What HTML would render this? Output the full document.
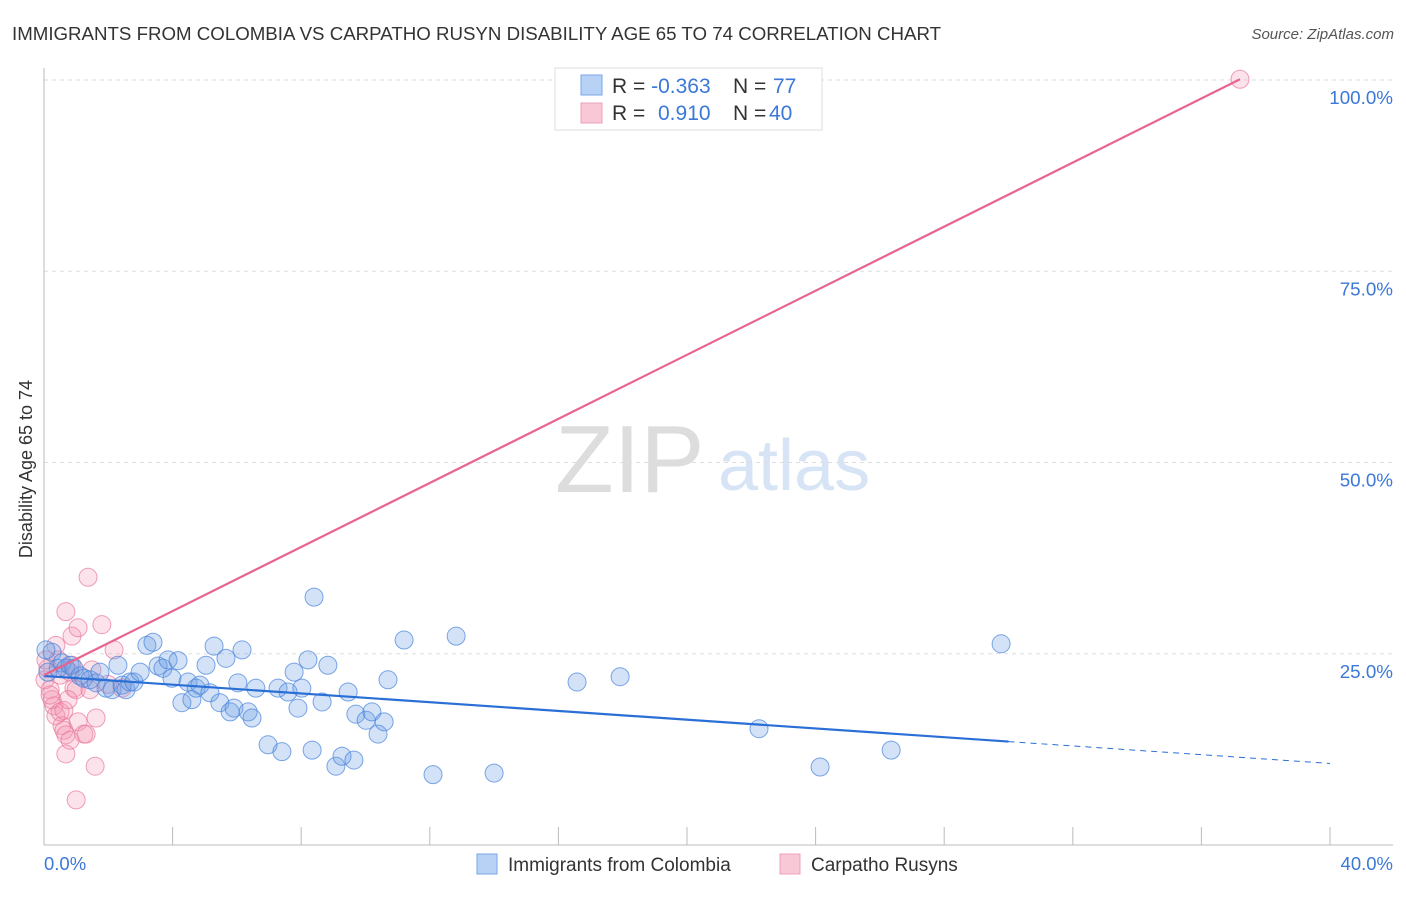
<!DOCTYPE html>
<html><head><meta charset="utf-8">
<style>
body{margin:0;background:#fff;font-family:"Liberation Sans",sans-serif}
svg text{font-family:"Liberation Sans",sans-serif}
</style></head>
<body>
<svg id="chart" width="1406" height="892">
<text x="12" y="40" font-size="18.7" fill="#333">IMMIGRANTS FROM COLOMBIA VS CARPATHO RUSYN DISABILITY AGE 65 TO 74 CORRELATION CHART</text>
<text x="1394" y="39" font-size="15" fill="#555" font-style="italic" text-anchor="end">Source: ZipAtlas.com</text>
<g>
<text x="555" y="492" font-size="96" fill="#ddd" font-family="Liberation Serif">ZIP</text>
<text x="718" y="490" font-size="72" fill="#d6e4f5">atlas</text>
</g>
<g id="grid"></g>
<g id="axes"></g>
<g id="pts"></g>
<g id="lines"></g>
<text x="18" y="455" font-size="18" fill="#333" transform="rotate(-90 32 455)" text-anchor="middle">Disability Age 65 to 74</text>
<g>
<rect x="555" y="68" width="267" height="62" fill="#fff" stroke="#ddd"/>
<rect x="581" y="75" width="21" height="20" fill="#b8d2f5" stroke="#7aa6e6"/>
<rect x="581" y="103" width="21" height="20" fill="#f9c8d6" stroke="#eda0b8"/>
<text x="612" y="93" font-size="21" fill="#333">R = <tspan fill="#3b78d8">-0.363</tspan><tspan x="733">N = </tspan><tspan x="773" fill="#3b78d8">77</tspan></text>
<text x="612" y="120" font-size="21" fill="#333">R = <tspan x="658" fill="#3b78d8">0.910</tspan><tspan x="733">N = </tspan><tspan x="769" fill="#3b78d8">40</tspan></text>
</g>
<g>
<rect x="477" y="854" width="20" height="20" fill="#b8d2f5" stroke="#7aa6e6"/>
<text x="508" y="871" font-size="19" fill="#333">Immigrants from Colombia</text>
<rect x="780" y="854" width="20" height="20" fill="#f9c8d6" stroke="#eda0b8"/>
<text x="811" y="871" font-size="19" fill="#333">Carpatho Rusyns</text>
</g>
</svg>
<script>
const yTicks=[25,50,75,100];
const yTickLabels=["25.0%","50.0%","75.0%","100.0%"];
const xTicks=[0,4,8,12,16,20,24,28,32,36,40];
const xEndLabels=["0.0%","40.0%"];
const blueX=[0.25,0.44,0.56,0.68,0.81,0.93,1.12,1.24,1.43,1.62,1.74,1.93,2.12,2.30,2.43,2.55,2.67,2.80,2.99,3.20,3.39,3.55,3.70,3.86,3.98,4.17,4.29,4.48,4.60,4.73,4.85,5.04,5.16,5.29,5.47,5.66,5.79,5.91,6.03,6.16,6.35,6.47,6.59,6.97,7.28,7.40,7.59,7.78,7.90,8.02,8.21,8.34,8.40,8.65,8.83,9.08,9.27,9.46,9.64,9.70,10.02,10.20,10.39,10.58,10.70,11.20,12.10,12.82,14.00,16.58,17.92,22.24,24.14,26.35,29.77,0.06,0.12];
const blueY=[25.2,23.1,23.8,23.1,23.5,23.1,22.1,21.8,21.6,21.2,22.6,20.5,20.3,23.5,20.9,20.3,21.3,21.3,22.6,26.1,26.5,23.4,23.1,24.2,21.8,24.1,18.6,21.3,19.0,20.5,20.9,23.5,19.9,26.0,18.6,24.4,17.4,17.9,21.2,25.5,17.4,16.6,20.5,13.1,20.5,12.2,20.0,22.6,17.9,20.5,24.2,12.4,32.4,18.7,23.5,10.3,11.6,20.0,11.1,17.1,16.3,17.4,14.5,16.1,21.6,26.8,9.2,27.3,9.4,21.3,22.0,15.2,10.2,12.4,26.3,25.5,22.6];
const pinkX=[0.03,0.12,0.19,0.25,0.31,0.37,0.44,0.50,0.56,0.62,0.68,0.81,0.87,0.93,1.00,1.06,1.24,1.43,1.49,1.62,1.80,1.99,2.18,2.43,0.68,0.87,1.06,1.00,1.37,1.31,1.59,0.68,0.81,0.06,0.19,0.37,0.50,0.62,37.2,0.75];
const pinkY=[21.6,23.1,20.3,19.0,18.2,16.9,24.2,17.4,15.6,15.0,14.4,22.6,23.5,20.5,20.3,16.1,14.5,20.3,22.9,16.6,28.8,21.0,25.5,20.5,30.5,27.3,28.4,5.9,35.0,14.5,10.3,11.9,13.7,24.2,19.6,26.1,22.2,17.6,100.1,19.0];
const blueFit=[22.1,-0.286];
const blueSolidEnd=[30.0];
const pinkFit=[22.2,2.094];
const pinkEnd=[37.2];
const NS="http://www.w3.org/2000/svg";
const X0=44,X1=1330,Y0=845,YSCALE=7.65;
function sx(v){return X0+(X1-X0)*v/40;}
function sy(v){return Y0-v*YSCALE;}
function mk(tag,attrs,parent){const e=document.createElementNS(NS,tag);for(const k in attrs)e.setAttribute(k,attrs[k]);parent.appendChild(e);return e;}
const grid=document.getElementById('grid'),axes=document.getElementById('axes'),pts=document.getElementById('pts'),lines=document.getElementById('lines');
yTicks.forEach((t,i)=>{
 const l=mk('line',{x1:X0,x2:1393,y1:sy(t),y2:sy(t),stroke:'#ddd','stroke-dasharray':'4 4'},grid);
 
 
 const tx=mk('text',{x:1393,y:sy(t)+24,'font-size':18.8,fill:'#3b78d8','text-anchor':'end'},grid);
 tx.textContent=yTickLabels[i];
 
 
});
const ax=mk('line',{x1:X0,x2:1393,y1:Y0,y2:Y0,stroke:'#bbb'},axes);


const ay=mk('line',{x1:X0,x2:X0,y1:68,y2:Y0,stroke:'#bbb'},axes);


xTicks.forEach(t=>{
 const l=mk('line',{x1:sx(t),x2:sx(t),y1:Y0-18,y2:Y0,stroke:'#bbb'},axes);
 
 
});
const xl0=mk('text',{x:44,y:870,'font-size':18.5,fill:'#3b78d8'},axes);xl0.textContent=xEndLabels[0];


const xl1=mk('text',{x:1393,y:870,'font-size':18.5,fill:'#3b78d8','text-anchor':'end'},axes);xl1.textContent=xEndLabels[1];


pinkX.forEach((x,i)=>{
 const c=mk('circle',{cx:sx(x),cy:sy(pinkY[i]),r:9,fill:'rgba(243,150,180,0.28)',stroke:'rgba(232,120,155,0.7)','stroke-width':1},pts);
 
 
});
blueX.forEach((x,i)=>{
 const c=mk('circle',{cx:sx(x),cy:sy(blueY[i]),r:9,fill:'rgba(110,160,230,0.3)',stroke:'rgba(70,130,220,0.7)','stroke-width':1},pts);
 
 
});
const bs=mk('line',{x1:sx(0),y1:sy(blueFit[0]),x2:sx(blueSolidEnd[0]),y2:sy(blueFit[0]+blueFit[1]*blueSolidEnd[0]),stroke:'#2a6fd6','stroke-width':2.2},lines);


const bd=mk('line',{x1:sx(blueSolidEnd[0]),y1:sy(blueFit[0]+blueFit[1]*blueSolidEnd[0]),x2:sx(40),y2:sy(blueFit[0]+blueFit[1]*40),stroke:'#2a6fd6','stroke-width':1,'stroke-dasharray':'6 5'},lines);


const pl=mk('line',{x1:sx(0),y1:sy(pinkFit[0]),x2:sx(pinkEnd[0]),y2:sy(pinkFit[0]+pinkFit[1]*pinkEnd[0]),stroke:'#e8648f','stroke-width':2.2},lines);


</script>
</body></html>
